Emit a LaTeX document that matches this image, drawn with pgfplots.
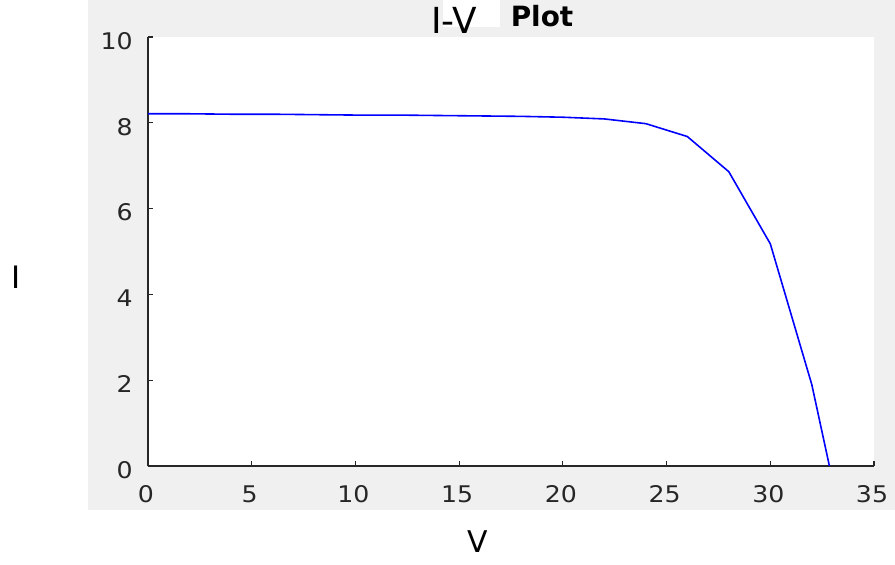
\documentclass[border=0pt]{standalone}
\usepackage{fontspec}
\setmainfont{DejaVu Sans}
\newfontfamily\tickfont[FakeStretch=1.1]{DejaVu Sans}
\usepackage{pgfplots}
\pgfplotsset{compat=1.18}
\definecolor{figgray}{RGB}{240,240,240}
\definecolor{axgray}{RGB}{38,38,38}
\definecolor{lineblue}{RGB}{0,0,255}

\begin{document}
\begin{tikzpicture}
\useasboundingbox (-74bp,-49.5bp) rectangle (373.5bp,233bp);
% figure background
\fill[white] (-74bp,-49.5bp) rectangle (373.5bp,233bp);
\fill[figgray] (-30bp,-22bp) rectangle (373.5bp,233bp);
\fill[white] (0bp,0bp) rectangle (363bp,214.5bp);
\fill[white] (147.5bp,219.5bp) rectangle (176bp,233bp);

\begin{axis}[
  at={(0,0)}, anchor=south west,
  scale only axis, width=363bp, height=214.5bp,
  xmin=0, xmax=35, ymin=0, ymax=10,
  xtick={0,5,...,35}, ytick={0,2,...,10},
  axis lines=left,
  axis line style={-, color=axgray, line width=0.65pt},
  tick style={color=axgray, line width=0.6pt},
  tick align=inside, major tick length=2.5bp,
  tick label style={font=\tickfont\fontsize{11.5}{13}\selectfont, text=axgray, inner sep=0pt},
  /pgf/number format/assume math mode=true,
  xticklabel style={anchor=center, yshift=-14.25bp, xshift=-1bp},
  yticklabel style={anchor=east, xshift=-7.5bp, yshift=-2bp},
]
\addplot[lineblue, line width=0.8pt] coordinates {
  (0,8.21) (2,8.21) (4,8.20) (6,8.20) (8,8.19) (10,8.18) (12,8.18)
  (14,8.17) (16,8.16) (18,8.15) (20,8.13) (22,8.09) (24,7.98)
  (26,7.68) (28,6.86) (30,5.18) (32,1.90) (32.85,0)
};
\end{axis}

\node[font=\fontsize{18}{20}\selectfont, inner sep=0pt] at (153bp,223bp) {I-V};
\node[font=\fontsize{14}{16}\selectfont\bfseries, inner sep=0pt] at (197bp,225bp) {Plot};
\node[font=\fontsize{15.5}{17}\selectfont, inner sep=0pt] at (-65.75bp,94.25bp) {I};
\node[font=\fontsize{15}{17}\selectfont, inner sep=0pt] at (164.75bp,-38bp) {V};
\end{tikzpicture}
\end{document}
